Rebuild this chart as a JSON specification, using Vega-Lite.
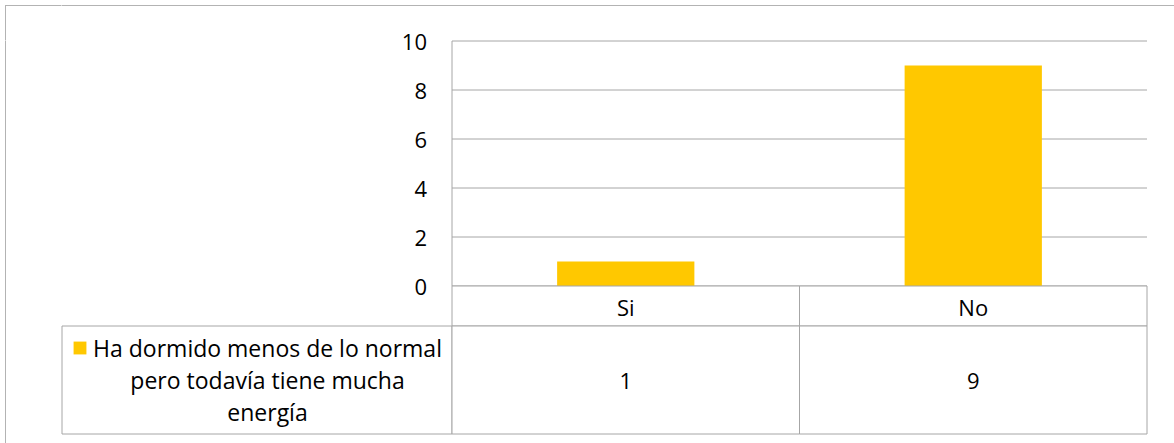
{
  "$schema": "https://vega.github.io/schema/vega-lite/v6.json",
  "background": "white",
  "padding": {"left": 5, "top": 5, "right": 0, "bottom": 0},
  "config": {
    "view": {"stroke": null},
    "font": "Open Sans",
    "text": {"font": "Open Sans", "fontSize": 22, "color": "#000000"}
  },
  "datasets": {
    "respuestas": [
      {"respuesta": "Si", "personas": 1, "serie": "Ha dormido menos de lo normal pero todavía tiene mucha energía"},
      {"respuesta": "No", "personas": 9, "serie": "Ha dormido menos de lo normal pero todavía tiene mucha energía"}
    ],
    "serie": [
      {"serie": "Ha dormido menos de lo normal pero todavía tiene mucha energía", "lineas": ["Ha dormido menos de lo normal", "pero todavía tiene mucha", "energía"]}
    ],
    "marco": [{"borde": "marco"}],
    "vacio": []
  },
  "columns": 5,
  "spacing": 0,
  "bounds": "flush",
  "concat": [
    {"width": 1, "height": 1, "data": {"name": "marco"}, "mark": {"type": "rect", "fill": "#b3b3b3", "stroke": null}, "encoding": {}},
    {"width": 55.5, "height": 1, "data": {"name": "marco"}, "mark": {"type": "rect", "fill": "#b3b3b3", "stroke": null}, "encoding": {}},
    {"width": 390, "height": 1, "data": {"name": "marco"}, "mark": {"type": "rect", "fill": "#b3b3b3", "stroke": null}, "encoding": {}},
    {"width": 695, "height": 1, "data": {"name": "marco"}, "mark": {"type": "rect", "fill": "#b3b3b3", "stroke": null}, "encoding": {}},
    {"width": 28, "height": 1, "data": {"name": "marco"}, "mark": {"type": "rect", "fill": "#b3b3b3", "stroke": null}, "encoding": {}},

    {"width": 1, "height": 34.5, "data": {"name": "marco"}, "mark": {"type": "rect", "fill": "#b3b3b3", "stroke": null}, "encoding": {}},
    {"width": 55.5, "height": 34.5, "data": {"name": "vacio"}, "mark": "point", "encoding": {}},
    {"width": 390, "height": 34.5, "data": {"name": "vacio"}, "mark": "point", "encoding": {}},
    {"width": 695, "height": 34.5, "data": {"name": "vacio"}, "mark": "point", "encoding": {}},
    {"width": 28, "height": 34.5, "data": {"name": "vacio"}, "mark": "point", "encoding": {}},

    {"width": 1, "height": 245, "data": {"name": "marco"}, "mark": {"type": "rect", "fill": "#b3b3b3", "stroke": null}, "encoding": {}},
    {"width": 55.5, "height": 245, "data": {"name": "vacio"}, "mark": "point", "encoding": {}},
    {"width": 390, "height": 245, "data": {"name": "vacio"}, "mark": "point", "encoding": {}},
    {
      "width": 695,
      "height": 245,
      "data": {"name": "respuestas"},
      "mark": {"type": "bar", "width": {"band": 0.395}},
      "encoding": {
        "x": {"field": "respuesta", "type": "nominal", "sort": ["Si", "No"], "scale": {"paddingInner": 0, "paddingOuter": 0}, "axis": null},
        "y": {
          "field": "personas", "type": "quantitative",
          "scale": {"domain": [0, 10], "nice": false},
          "axis": {
            "title": null, "values": [0, 2, 4, 6, 8, 10], "translate": 0,
            "grid": true, "gridColor": "#a6a6a6", "gridWidth": 1,
            "domain": true, "domainColor": "#a6a6a6", "domainWidth": 1,
            "ticks": false, "tickSize": 0, "labelPadding": 25, "labelOffset": 2,
            "labelFont": "Open Sans", "labelFontSize": 22, "labelColor": "#000000"
          }
        },
        "color": {"field": "serie", "type": "nominal", "scale": {"range": ["#FFC800"]}, "legend": null}
      }
    },
    {"width": 28, "height": 245, "data": {"name": "vacio"}, "mark": "point", "encoding": {}},

    {"width": 1, "height": 40, "data": {"name": "marco"}, "mark": {"type": "rect", "fill": "#b3b3b3", "stroke": null}, "encoding": {}},
    {"width": 55.5, "height": 40, "data": {"name": "vacio"}, "mark": "point", "encoding": {}},
    {"width": 390, "height": 40, "data": {"name": "vacio"}, "mark": "point", "encoding": {}},
    {
      "width": 695,
      "height": 40,
      "data": {"name": "respuestas"},
      "encoding": {
        "x": {"field": "respuesta", "type": "nominal", "sort": ["Si", "No"], "scale": {"paddingInner": 0, "paddingOuter": 0}, "axis": null}
      },
      "layer": [
        {"mark": {"type": "rect", "fill": "white", "stroke": "#a6a6a6", "strokeWidth": 1}},
        {"mark": {"type": "text", "baseline": "middle", "dy": 3}, "encoding": {"text": {"field": "respuesta"}}}
      ]
    },
    {"width": 28, "height": 40, "data": {"name": "vacio"}, "mark": "point", "encoding": {}},

    {"width": 1, "height": 108, "data": {"name": "marco"}, "mark": {"type": "rect", "fill": "#b3b3b3", "stroke": null}, "encoding": {}},
    {"width": 55.5, "height": 108, "data": {"name": "vacio"}, "mark": "point", "encoding": {}},
    {
      "width": 390,
      "height": 108,
      "data": {"name": "serie"},
      "layer": [
        {
          "mark": {"type": "rect", "fill": "white", "stroke": "#a6a6a6", "strokeWidth": 1},
          "encoding": {}
        },
        {
          "mark": {"type": "point", "shape": "square", "filled": true, "size": 165, "opacity": 1, "xOffset": -177, "yOffset": -32},
          "encoding": {
            "color": {"field": "serie", "type": "nominal", "scale": {"range": ["#FFC800"]}, "legend": null}
          }
        },
        {
          "mark": {"type": "text", "align": "center", "baseline": "middle", "fontSize": 23, "lineHeight": 32, "dx": 10.5, "dy": -30},
          "encoding": {"text": {"field": "lineas"}}
        }
      ]
    },
    {
      "width": 695,
      "height": 108,
      "data": {"name": "respuestas"},
      "encoding": {
        "x": {"field": "respuesta", "type": "nominal", "sort": ["Si", "No"], "scale": {"paddingInner": 0, "paddingOuter": 0}, "axis": null}
      },
      "layer": [
        {"mark": {"type": "rect", "fill": "white", "stroke": "#a6a6a6", "strokeWidth": 1}},
        {"mark": {"type": "text", "baseline": "middle", "dy": 2}, "encoding": {"text": {"field": "personas"}}}
      ]
    },
    {"width": 28, "height": 108, "data": {"name": "vacio"}, "mark": "point", "encoding": {}},

    {"width": 1, "height": 10, "data": {"name": "marco"}, "mark": {"type": "rect", "fill": "#b3b3b3", "stroke": null}, "encoding": {}},
    {"width": 55.5, "height": 10, "data": {"name": "vacio"}, "mark": "point", "encoding": {}},
    {"width": 390, "height": 10, "data": {"name": "vacio"}, "mark": "point", "encoding": {}},
    {"width": 695, "height": 10, "data": {"name": "vacio"}, "mark": "point", "encoding": {}},
    {"width": 28, "height": 10, "data": {"name": "vacio"}, "mark": "point", "encoding": {}}
  ]
}
